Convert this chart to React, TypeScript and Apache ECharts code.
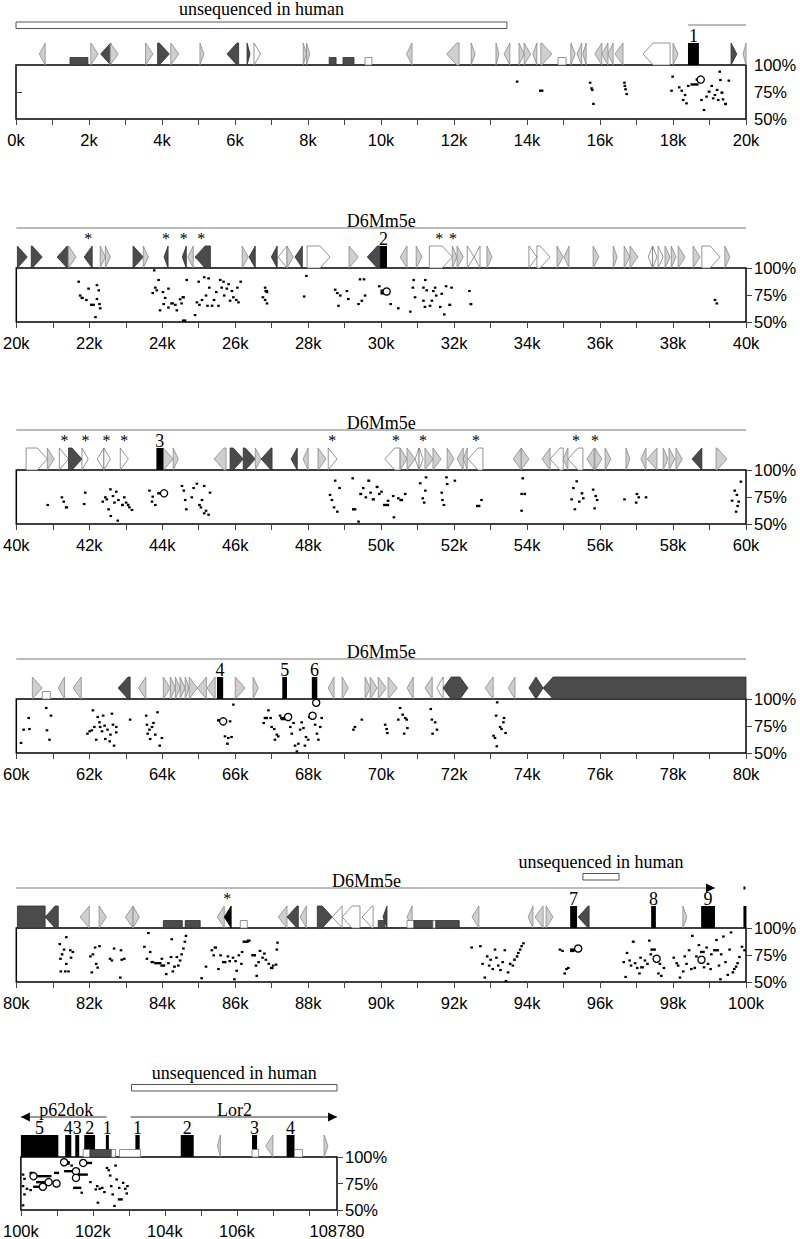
import React, { useEffect, useRef } from "react";
import * as echarts from "echarts";

// ---------- axis ranges (kb) ----------
const RANGES: [number, number][] = [
  [0, 20], [20, 40], [40, 60], [60, 80], [80, 100], [100, 108.78],
];
const Y_TICKS = [50, 75, 100];

// ---------- repeats: [startKb, endKb, fill(L light/D dark/W white/B black), dir(1 right,-1 left,0 both,2 box)] ----------
const rep1: [number, number, string, number][] = [
  [0.64,0.8,"L",-1],[2.05,2.25,"L",1],[2.32,2.6,"D",-1],[2.58,2.8,"L",1],[3.55,3.75,"L",1],[3.88,4.2,"D",1],
  [4.24,4.46,"L",1],[5.04,5.15,"L",1],[5.78,6.1,"D",-1],[6.33,6.4,"D",1],[6.52,6.7,"W",1],[7.87,7.96,"L",1],
  [7.96,8.05,"L",1],[10.7,10.85,"L",-1],[11.8,12.14,"L",-1],[12.47,12.58,"L",1],[13.15,13.23,"L",1],
  [13.37,13.53,"L",-1],[13.78,13.92,"L",1],[13.92,14.1,"L",1],[14.16,14.27,"L",-1],[14.38,14.68,"L",1],
  [15.2,15.32,"L",1],[15.37,15.5,"L",-1],[15.53,15.62,"L",-1],[15.86,16.05,"L",-1],[16.05,16.22,"L",-1],
  [16.22,16.36,"L",-1],[16.41,16.63,"L",-1],[17.18,17.92,"W",-1],[18.0,18.14,"L",1],[19.59,19.75,"D",1],
  [19.92,20.0,"L",-1],
];
const rep2: [number, number, string, number][] = [
  [20.03,20.3,"D",1],[20.41,20.71,"D",1],[21.12,21.4,"D",-1],[21.43,21.64,"L",1],[21.86,22.08,"D",-1],
  [22.3,22.44,"L",1],[22.44,22.58,"L",1],[23.2,23.48,"D",1],[23.48,23.62,"L",1],[24.05,24.16,"D",-1],
  [24.55,24.66,"D",-1],[24.7,24.85,"L",-1],[24.9,25.32,"D",-1],[26.19,26.36,"L",1],[26.38,26.55,"D",-1],
  [26.99,27.15,"D",-1],[27.18,27.42,"W",-1],[27.42,27.59,"L",1],[27.64,27.84,"D",-1],[27.97,28.6,"W",1],
  [29.12,29.37,"L",1],[29.62,29.97,"D",-1],[30.52,30.71,"L",-1],[30.96,31.12,"L",1],[31.32,31.95,"W",1],
  [31.95,32.08,"L",1],[32.08,32.25,"L",1],[32.36,32.55,"W",1],[32.55,32.71,"W",-1],[32.9,33.04,"L",1],
  [34.05,34.27,"W",1],[34.27,34.63,"W",1],[34.82,34.99,"L",1],[35.01,35.15,"L",-1],[35.81,35.97,"L",1],
  [36.36,36.47,"L",1],[36.66,36.82,"L",1],[36.82,37.04,"L",1],[37.32,37.44,"W",-1],[37.44,37.56,"W",1],
  [37.59,37.73,"W",1],[37.78,37.92,"L",1],[37.95,38.08,"L",1],[38.14,38.33,"L",1],[38.55,38.74,"L",1],
  [38.79,39.29,"W",1],[39.42,39.56,"L",1],
];
const rep3: [number, number, string, number][] = [
  [40.27,40.85,"W",1],[40.85,41.04,"L",1],[41.18,41.43,"W",1],[41.43,41.8,"D",1],[41.8,41.97,"W",1],
  [42.22,42.4,"W",-1],[42.4,42.58,"W",1],[42.85,43.07,"W",1],[44.03,44.3,"L",1],[44.3,44.44,"L",1],
  [45.42,45.75,"L",-1],[45.86,46.22,"D",1],[46.22,46.55,"D",1],[46.55,46.71,"L",1],[46.71,47.01,"D",-1],
  [47.53,47.7,"D",-1],[47.86,48.0,"L",-1],[48.27,48.49,"L",1],[48.55,48.79,"W",1],[50.1,50.52,"W",-1],
  [50.52,50.71,"L",1],[50.71,50.93,"L",1],[50.93,51.04,"W",-1],[51.04,51.15,"W",1],[51.2,51.42,"L",1],
  [51.42,51.64,"L",1],[51.81,52.0,"L",1],[52.08,52.25,"L",-1],[52.25,52.36,"L",-1],[52.38,52.79,"W",-1],
  [53.62,53.84,"L",-1],[53.84,54.05,"L",1],[54.41,54.63,"L",-1],[54.63,54.99,"W",-1],[54.99,55.12,"L",-1],
  [55.12,55.53,"W",-1],[55.64,55.84,"L",-1],[55.86,56.05,"L",1],[56.14,56.3,"L",1],[56.71,56.82,"L",1],
  [57.12,57.26,"L",-1],[57.29,57.56,"L",-1],[57.73,57.86,"L",1],[57.89,58.05,"L",1],[58.08,58.25,"L",1],
  [58.52,58.79,"D",-1],[59.18,59.48,"L",1],
];
const rep4: [number, number, string, number][] = [
  [60.44,60.71,"L",1],[61.15,61.32,"L",-1],[61.56,61.78,"L",-1],[62.79,63.12,"D",-1],[63.35,63.55,"L",-1],
  [64.03,64.22,"L",1],[64.22,64.36,"L",1],[64.36,64.49,"L",1],[64.49,64.63,"L",1],[64.63,64.74,"L",1],
  [64.74,64.96,"L",1],[64.96,65.21,"L",-1],[65.23,65.45,"L",-1],[66.0,66.27,"L",1],[66.49,66.63,"L",1],
  [68.55,68.71,"L",-1],[68.93,69.1,"L",1],[69.56,69.7,"L",1],[69.7,69.89,"L",1],[69.92,70.14,"L",1],
  [70.19,70.44,"L",1],[70.71,70.88,"L",-1],[71.2,71.4,"L",-1],[71.53,71.7,"W",-1],[71.7,72.38,"D",0],
  [72.85,73.07,"L",-1],[73.48,73.67,"L",-1],[74.05,74.44,"D",0],[74.44,80,"D",-1],
];
const rep5: [number, number, string, number][] = [
  [80.03,80.79,"D",2],[80.79,81.15,"D",-1],[81.75,82.0,"L",-1],[82.27,82.47,"L",1],[82.99,83.2,"L",-1],
  [83.2,83.37,"L",1],[85.51,85.7,"L",-1],[85.7,85.89,"B",-1],[87.18,87.42,"L",-1],[87.42,87.73,"D",-1],
  [87.78,87.95,"L",-1],[88.25,88.66,"D",1],[88.66,88.93,"W",-1],[88.93,89.42,"W",-1],[89.48,89.78,"W",-1],
  [90.05,90.16,"D",-1],[90.71,90.85,"L",-1],[92.49,92.68,"L",-1],[94.03,94.16,"L",-1],[94.22,94.44,"L",-1],
  [94.52,94.71,"L",1],[95.4,95.7,"D",-1],[98.27,98.38,"L",1],
];
const rep6: [number, number, string, number][] = [
  [105.46,105.52,"L",-1],[106.8,107.0,"L",-1],[108.42,108.53,"L",1],
];

// ---------- low blocks: [startKb, endKb, fill] ----------
const low1: [number, number, string][] = [[1.48,1.97,"D"],[8.58,8.77,"D"],[8.96,9.26,"D"],[9.56,9.75,"W"],[14.85,15.07,"W"]];
const low2: [number, number, string][] = [];
const low3: [number, number, string][] = [];
const low4: [number, number, string][] = [[60.71,60.93,"W"]];
const low5: [number, number, string][] = [
  [84.03,84.55,"D"],[84.63,85.04,"D"],[86.14,86.33,"W"],[89.92,90.1,"D"],[90.71,90.9,"W"],
  [90.9,91.42,"D"],[91.42,91.5,"W"],[91.5,92.14,"D"],
];
const low6: [number, number, string][] = [
  [101.73,101.92,"W"],[101.92,102.52,"D"],[102.52,102.63,"W"],[102.74,103.32,"W"],[106.42,106.6,"W"],[107.6,107.82,"W"],
];

// ---------- exons: [startKb, endKb, number] ----------
const exon1: [number, number, string][] = [[18.41,18.71,"1"]];
const exon2: [number, number, string][] = [[29.97,30.16,"2"]];
const exon3: [number, number, string][] = [[43.84,44.03,"3"]];
const exon4: [number, number, string][] = [[65.5,65.67,"4"],[67.29,67.42,"5"],[68.1,68.25,"6"]];
const exon5: [number, number, string][] = [[95.18,95.37,"7"],[97.4,97.53,"8"],[98.77,99.15,"9"],[99.93,100,""]];
const exon6: [number, number, string][] = [
  [100.0,101.04,"5"],[101.23,101.4,"4"],[101.51,101.62,"3"],[101.76,102.06,"2"],[102.36,102.44,"1"],
  [103.18,103.3,"1"],[104.44,104.8,"2"],[106.42,106.56,"3"],[107.38,107.6,"4"],
];

// ---------- asterisks (kb) ----------
const star1: number[] = [];
const star2: number[] = [21.97, 24.1, 24.59, 25.07, 31.59, 31.97];
const star3: number[] = [41.32, 41.9, 42.47, 42.96, 48.66, 50.41, 51.15, 52.6, 55.34, 55.86];
const star4: number[] = [];
const star5: number[] = [85.78];
const star6: number[] = [];

// ---------- gene lines: [startKb, endKb, arrow(1 right,-1 left,0 none)] ----------
const gene1: [number, number, number][] = [[18.41, 20, 0]];
const gene2: [number, number, number][] = [[20, 40, 0]];
const gene3: [number, number, number][] = [[40, 60, 0]];
const gene4: [number, number, number][] = [[60, 80, 0]];
const gene5: [number, number, number][] = [[80, 99.15, 1], [99.93, 100, 0]];
const gene6: [number, number, number][] = [[100.0, 102.38, -1], [103.05, 108.78, 1]];

// ---------- gene names: [centerKb, name] ----------
const name1: [number, string][] = [];
const name2: [number, string][] = [[30, "D6Mm5e"]];
const name3: [number, string][] = [[50, "D6Mm5e"]];
const name4: [number, string][] = [[70, "D6Mm5e"]];
const name5: [number, string][] = [[89.6, "D6Mm5e"]];
const name6: [number, string][] = [[101.26, "p62dok"], [105.93, "Lor2"]];

// ---------- unsequenced regions: [startKb, endKb] ----------
const unseq1: [number, number][] = [[0, 13.45]];
const unseq2: [number, number][] = [];
const unseq3: [number, number][] = [];
const unseq4: [number, number][] = [];
const unseq5: [number, number][] = [[95.53, 96.52]];
const unseq6: [number, number][] = [[103.07, 108.78]];
const UNSEQ_LABEL = "unsequenced in human";

// ---------- PIP: points [kb, %], dashes [startKb, endKb, %], circles [kb, %] ----------
const pts1: [number, number][] = [
  [13.73,84.6],[15.73,83.6],[15.77,78.4],[15.79,76.9],[15.82,64],[16.67,83.6],[16.68,80.6],[16.7,77.5],[16.73,73.1],
  [17.99,89.2],[17.96,76.2],[18.17,79.3],[18.24,76.2],[18.28,67.6],[18.33,72.2],[18.37,64.5],[18.42,80.6],[18.78,67.6],
  [18.85,58.3],[18.92,70.7],[19.06,80.6],[19.1,69.1],[19.15,72.2],[19.21,76.9],[19.24,67.6],[19.28,93.8],[19.3,86.1],
  [19.37,68.2],[19.53,85.5],
];
const dash1: [number, number, number][] = [
  [14.33,14.45,76.2],[18.48,18.7,82],[18.62,18.72,86.5],[18.95,19.03,75.3],[19.3,19.38,74.4],[19.4,19.48,63.9],
];
const circ1: [number, number][] = [[18.76,86.5]];

const pts2: [number, number][] = [
  [21.71,87.3],[21.75,74.5],[21.92,70.4],[21.98,80.9],[22.12,65.9],[22.17,54.5],[22.21,84.1],[22.26,79.3],[22.21,71.3],
  [22.3,62.7],[22.28,66.6],[23.78,97.8],[23.81,81.8],[23.74,76.8],[23.85,79.3],[23.9,88.9],[23.94,60.8],[24.02,77.7],
  [24.04,66.6],[24.08,72.3],[24.17,80.9],[24.17,63.4],[24.36,65.9],[24.4,60.8],[24.49,71],[24.53,67.2],[24.67,88.9],
  [24.9,56.4],[24.95,68.2],[25.02,65.9],[25,87.3],[25.09,70.4],[25.15,91.4],[25.2,74.5],[25.27,90.4],[25.24,65],
  [25.29,81.8],[25.42,70.4],[25.48,77.7],[25.54,65],[25.59,88.9],[25.63,81.8],[25.68,87.3],[25.7,74.5],[25.77,80.9],
  [25.82,85],[25.86,69.7],[25.91,78.7],[25.95,72.9],[26.03,70.4],[26.06,81.8],[26.15,87.3],[26.09,68.2],[26.82,81.8],
  [26.87,77.7],[26.76,72.9],[26.82,70.4],[26.87,67.2],[27.95,92.7],[27.89,73.6],[28.74,79.9],[28.8,76.8],[28.83,65],
  [28.88,74.5],[29.06,78.7],[29.1,71.3],[29.38,66.6],[29.42,89.5],[29.47,69.7],[29.53,89.5],[29.56,74.5],[29.95,83.1],
  [30.26,66.6],[30.47,62.7],[30.8,59.6],[30.87,81.8],[30.93,72.9],[30.89,88.9],[31.16,81.8],[31.21,88.9],[31.16,69.7],
  [31.2,64],[31.25,79.3],[31.34,65],[31.39,69.7],[31.43,78.7],[31.48,81.8],[31.51,74.5],[31.62,64],[31.66,76.1],
  [31.73,57],[31.78,83.1],[31.93,81.8],[32.42,78.7],[39.15,70.4],[39.2,67.2],
];
const dash2: [number, number, number][] = [
  [21.76,21.85,72.3],[22.02,22.1,65.9],[24.22,24.32,67.2],[24.53,24.62,72.9],[24.54,24.66,51.3],[25.33,25.4,65],
  [26.8,26.9,78.7],[29.98,30.1,76.6],[29.98,30.08,79],[31.84,31.92,65.9],[32.42,32.5,66.6],
];
const circ2: [number, number][] = [[30.15,78.2]];

const pts3: [number, number][] = [
  [40.86,67.6],[41.25,74.7],[41.3,70.7],[41.89,79],[41.86,68.5],[42.37,70.7],[42.44,74.7],[42.48,72.8],[42.53,63.6],
  [42.58,82.1],[42.59,57.4],[42.65,75.9],[42.69,69.8],[42.74,79.9],[42.78,53.1],[42.8,72.2],[42.96,74.7],[43.01,69.8],
  [43.1,65.4],[43.17,63],[43.65,80.9],[43.74,75.3],[43.72,70.7],[43.81,67.6],[44.54,85.2],[44.59,80.9],[44.63,72.2],
  [44.66,63.6],[44.81,74.7],[44.86,83.3],[44.95,87.3],[45.02,67.6],[45.06,65.4],[45.09,72.2],[45.15,85.2],[45.15,59.9],
  [45.2,62.3],[45.27,58.6],[45.31,79],[48.6,76.9],[48.65,72.2],[48.71,65.4],[48.74,90.1],[48.8,61.4],[48.86,83.3],
  [49.22,92.3],[49.38,52.2],[49.51,83.3],[49.58,74.7],[49.71,79],[49.95,77.8],[50.01,79.9],[50.19,71.5],[50.33,75.9],
  [50.35,56.2],[50.47,73.8],[50.66,77.8],[51.07,87.7],[51.14,73.8],[51.18,69.8],[51.21,80.9],[51.23,93.2],[51.66,79],
  [51.68,72.2],[51.72,67.6],[51.79,93.2],[51.81,87],[52.02,90.1],[52.75,72.2],[53.88,92.3],[53.85,77.8],[53.85,62.3],
  [55.22,72.8],[55.27,83.3],[55.36,89.5],[55.31,63.6],[55.43,70.7],[55.54,73.8],[55.81,81.8],[55.88,75.9],[55.92,72.2],
  [55.85,64.5],[56.67,72.8],[56.99,69.8],[57.01,77.8],[57.06,74.7],[57.26,74.7],[59.62,71.6],[59.69,80.9],[59.75,76.9],
  [59.73,61.4],[59.8,70.7],[59.86,89.2],[59.77,66.7],
];
const dash3: [number, number, number][] = [
  [41.33,41.42,65.4],[42.87,42.95,67.6],[43.03,43.1,67.6],[43.86,43.99,78.4],[49.2,49.32,63.6],[49.4,49.48,77.8],
  [49.62,49.7,90.1],[49.74,49.83,72.8],[49.85,49.93,84.3],[50.05,50.22,67.6],[50.5,50.6,72.2],[52.6,52.72,66.7],
  [53.9,53.97,77.8],[55.47,55.54,78.4],
];
const circ3: [number, number][] = [[44.05,78.4]];

const pts4: [number, number][] = [
  [60.13,59.3],[60.2,71.6],[60.34,82.4],[60.36,72.2],[60.82,91.7],[60.84,71],[60.91,62.3],[60.95,84.6],[61.95,67.9],
  [62.01,70.1],[62.07,71],[62.1,89.5],[62.14,74.1],[62.19,62.3],[62.23,83.3],[62.28,78.4],[62.3,74.1],[62.35,70.1],
  [62.38,84.6],[62.42,75.3],[62.44,63],[62.5,71.6],[62.56,60.8],[62.58,67],[62.62,86.4],[62.65,76.2],[62.68,56.8],
  [62.74,69.1],[62.74,74.1],[63.12,80.9],[63.56,84.6],[63.58,76.2],[63.6,67.9],[63.65,71.6],[63.67,63],[63.72,74.1],
  [63.76,77.8],[63.81,67],[63.87,87.7],[63.93,56.8],[63.99,63.9],[65.86,79.3],[65.95,94.8],[65.72,65.4],[65.81,63.9],
  [65.9,64.8],[66.78,77.8],[66.91,89.5],[66.97,82.4],[67,74.1],[67.07,72.2],[67.09,62.3],[67.14,67],[67.18,65.4],
  [67.23,84.6],[67.51,74.1],[67.55,67.9],[67.6,77.8],[67.64,56.8],[67.69,51.5],[67.73,58.6],[67.78,71.6],[67.82,78.4],
  [67.87,73.1],[67.91,56.8],[67.94,64.8],[68.0,62.3],[68.03,83.3],[68.19,76.2],[68.24,67.9],[68.28,62.3],[68.33,74.1],
  [68.37,82.4],[69.24,71.6],[69.28,74.1],[69.47,80.9],[70.11,76.2],[70.15,72.2],[70.17,68.5],[70.47,80.9],[70.52,91.7],
  [70.59,85.5],[70.66,82.4],[70.7,80.9],[70.72,73.1],[70.63,67.9],[71.36,90.7],[71.39,80.9],[71.48,78.4],[71.53,71.6],
  [71.41,67.9],[73.18,96.9],[73.15,84.6],[73.37,82.4],[73.35,78.4],[73.26,74.1],[73.3,72.2],[73.41,68.5],[73.08,66.0],
  [73.12,63.9],[73.17,56.2],
];
const dash4: [number, number, number][] = [
  [65.5,65.64,80.2],[65.75,65.82,58.6],[66.78,66.9,82.4],[67.23,67.4,82.4],[67.25,67.38,81.4],
];
const circ4: [number, number][] = [[65.67,79.3],[67.45,83.3],[68.12,84.5],[68.22,96.5]];

const pts5: [number, number][] = [
  [81.19,85.1],[81.21,71.5],[81.31,80],[81.37,91.5],[81.37,66.8],[81.43,59.8],[81.48,79.4],[81.5,72.5],[81.55,77.8],
  [81.22,59.8],[81.34,59.8],[82.03,73.7],[82.1,75.6],[82.16,81.9],[82.19,66.8],[82.23,63.3],[82.07,58.9],[82.28,83.2],
  [82.57,71.5],[82.62,69.9],[82.68,81],[82.87,79.4],[82.89,70.6],[82.96,71.5],[82.85,54.1],[83.51,82.6],[83.62,95.3],
  [83.58,71.5],[83.67,77.8],[83.99,71.5],[84.11,57.3],[84.17,67.4],[84.24,73.1],[84.26,89.6],[84.29,59.8],[84.4,73.1],
  [84.44,65.2],[84.49,69.9],[84.53,75.6],[84.58,81],[84.62,87.3],[84.65,92.7],[85.08,53.5],[85.2,64.2],[85.36,79.4],
  [85.41,74.7],[85.54,62],[85.6,74.7],[85.8,73.7],[85.85,69.3],[85.98,52.5],[85.94,72.5],[86.01,69.3],[86.04,60.4],
  [86.1,74.7],[86.17,66.8],[86.19,77.8],[86.57,65.2],[86.59,55.7],[86.64,68.4],[86.68,78.8],[86.75,72.5],[86.8,76.3],
  [86.84,70.6],[86.92,66.8],[87.04,65.2],[87.12,66.1],[87.16,86.4],[87.14,80],[92.48,81.9],[92.72,83.2],[92.78,66.8],
  [92.84,54.1],[92.96,65.2],[93.0,70.6],[93.06,62],[93.12,80],[93.16,72.5],[93.21,65.2],[93.27,61.1],[93.33,68.4],
  [93.39,79.4],[93.42,50.9],[93.48,58.9],[93.61,65.2],[93.76,76.9],[93.81,80],[93.85,83.2],[93.9,85.8],[94.9,80],
  [94.97,78.8],[95.08,62],[95.03,57.9],[95.13,63],[96.65,68.4],[96.7,54.7],[96.74,76.9],[96.81,69.9],[96.85,65.2],
  [96.96,67.4],[97.02,63],[97.08,57.9],[97.11,72.5],[97.23,69.9],[97.3,66.8],[97.35,88.3],[97.39,75.6],[97.6,57.9],
  [97.64,66.8],[97.68,55.7],[97.75,63],[98.02,72.5],[98.1,67.4],[98.14,65.2],[98.19,54.1],[98.28,59.8],[98.32,73.7],
  [98.37,66.8],[98.44,79.4],[98.5,62],[98.53,92.7],[98.64,73.7],[98.71,84.2],[98.85,63.6],[98.92,81.9],[98.96,66.8],
  [99.03,62],[99.05,75.6],[99.19,88.9],[99.26,65.2],[99.3,52.5],[99.32,75.6],[99.38,92.1],[99.44,68.4],[99.5,56.6],
  [99.55,80],[99.59,95.9],[99.64,58.9],[99.68,62],[99.73,64.2],[99.77,67.4],[99.82,73.1],[99.89,82.6],[99.96,79.4],
];
const dash5: [number, number, number][] = [
  [81.22,81.29,75.6],[83.68,83.78,68.4],[83.78,83.98,67.4],[83.95,84.08,65.2],[84.3,84.37,64.2],[85.41,85.5,81.9],
  [85.64,85.76,68.4],[86.2,86.37,87.3],[86.32,86.42,88.3],[86.44,86.57,74.7],[86.95,87.05,63],[92.87,92.94,73.7],
  [93.5,93.57,66.8],[93.62,93.68,70.6],[93.69,93.75,73.7],[95.18,95.33,80],[95.18,95.3,78.8],[96.87,96.95,87.3],
  [97.1,97.2,63.6],[97.38,97.53,80],[98.56,98.62,63],[98.74,98.87,77.8],[99.1,99.26,79.4],
];
const circ5: [number, number][] = [[95.4,81],[97.55,71.5],[98.78,70.6]];

const pts6: [number, number][] = [
  [100.06,83.4],[100.1,79.4],[100.06,72.5],[100.1,64.7],[100.17,70],[100.27,68.8],[100.06,54.4],[101.32,93.7],
  [101.41,91.9],[101.59,88.1],[101.69,66.3],[101.93,76.3],[102.08,69.4],[102.12,72.5],[102.14,56.9],[102.19,70],
  [102.26,70.9],[102.32,66.9],[102.39,89.7],[102.44,87.5],[102.48,82.5],[102.51,72.5],[102.55,64.7],[102.6,53.8],
  [102.63,91.9],[102.66,78.8],[102.73,70.9],[102.84,75.6],[102.9,70],[102.96,72.5],[102.94,65.6],
];
const dash6: [number, number, number][] = [
  [101.24,101.36,95],[101.76,101.98,94.4],[101.2,101.48,86.6],[100.42,100.85,81.9],[100.42,100.72,76.3],
  [100.34,100.58,71.9],[100.92,101.06,85],[101.59,101.86,83.4],[101.45,101.68,70.9],[102.69,102.83,60],[100.24,100.38,85],
];
const circ6: [number, number][] = [[101.2,95],[101.73,94.4],[101.53,86.6],[100.35,81.9],[101.53,80.3],[100.77,76.3],[100.99,75],[100.61,71.9]];

const REPEATS = [rep1, rep2, rep3, rep4, rep5, rep6];
const LOWS = [low1, low2, low3, low4, low5, low6];
const EXONS = [exon1, exon2, exon3, exon4, exon5, exon6];
const STARS = [star1, star2, star3, star4, star5, star6];
const GENES = [gene1, gene2, gene3, gene4, gene5, gene6];
const NAMES = [name1, name2, name3, name4, name5, name6];
const UNSEQ = [unseq1, unseq2, unseq3, unseq4, unseq5, unseq6];
const POINTS = [pts1, pts2, pts3, pts4, pts5, pts6];
const DASHES = [dash1, dash2, dash3, dash4, dash5, dash6];
const CIRCLES = [circ1, circ2, circ3, circ4, circ5, circ6];

// ---------- layout (pixels) ----------
const LAYOUT = [
  { top: 65, left: 16, width: 730, unseqText: -56, unseqBar: -40 },
  { top: 268, left: 16, width: 730, unseqText: -56, unseqBar: -40 },
  { top: 470, left: 16, width: 730, unseqText: -56, unseqBar: -40 },
  { top: 699, left: 16, width: 730, unseqText: -56, unseqBar: -40 },
  { top: 928, left: 16, width: 730, unseqText: -66, unseqBar: -51.5 },
  { top: 1157, left: 17, width: 320, unseqText: -84, unseqBar: -69.5 },
];
const BOX_H = 54;
const SERIF = '"Liberation Serif", "Times New Roman", serif';
const SANS = '"Liberation Sans", Arial, Helvetica, sans-serif';
const FILL: Record<string, string> = { L: "#cfcfcf", D: "#4b4b4b", W: "#ffffff", B: "#000000" };
const STROKE: Record<string, string> = { L: "#8a8a8a", D: "#2e2e2e", W: "#7a7a7a", B: "#000000" };

function buildOption() {
  const grid: any[] = [];
  const xAxis: any[] = [];
  const yAxis: any[] = [];
  const series: any[] = [];

  RANGES.forEach(([mn, mx], i) => {
    const L = LAYOUT[i];
    grid.push({
      left: L.left, top: L.top, width: L.width, height: BOX_H,
      show: true, borderColor: "#000", borderWidth: 1.5, backgroundColor: "#fff",
    });
    xAxis.push({
      type: "value", gridIndex: i, min: mn, max: mx, interval: 1,
      axisLine: { show: false },
      axisTick: { show: true, length: 6, lineStyle: { color: "#444", width: 1 } },
      splitLine: { show: false },
      axisLabel: {
        margin: 12, fontSize: 16.5, color: "#000", fontFamily: SANS,
        formatter: (v: number) => {
          if (Math.abs(v - 108.78) < 1e-6) return "108780";
          if (v >= 108 && i === 5) return "";
          const r = Math.round(v);
          if (Math.abs(v - r) > 1e-6) return "";
          return r % 2 === 0 ? r + "k" : "";
        },
      },
    });
    yAxis.push({
      type: "value", gridIndex: i, position: "right", min: Y_TICKS[0], max: Y_TICKS[2], interval: 25,
      axisLine: { show: false },
      axisTick: { show: true, length: 6, lineStyle: { color: "#444", width: 1 } },
      splitLine: { show: false },
      axisLabel: { margin: 8, fontSize: 16.5, color: "#000", fontFamily: SANS, formatter: "{value}%" },
    });

    const base = { type: "custom", xAxisIndex: i, yAxisIndex: i, silent: true, clip: false, animation: false };
    const topOf = (api: any) => api.coord([mn, 100])[1];
    const xOf = (api: any, v: number) => api.coord([v, 100])[0];

    // unsequenced bars
    const us = UNSEQ[i];
    if (us.length) {
      series.push({
        ...base, z: 3,
        data: us.map((d) => [d[0], 100]),
        renderItem: (p: any, api: any) => {
          const d = us[p.dataIndex];
          const T = topOf(api);
          const x1 = xOf(api, d[0]), x2 = xOf(api, d[1]);
          return {
            type: "group",
            children: [
              { type: "rect", shape: { x: x1, y: T + L.unseqBar - 3, width: x2 - x1, height: 6.5 },
                style: { fill: "#fff", stroke: "#555", lineWidth: 1 } },
              { type: "text", x: (x1 + x2) / 2, y: T + L.unseqText,
                style: { text: UNSEQ_LABEL, font: `18px ${SERIF}`, fill: "#000", align: "center", verticalAlign: "middle" } },
            ],
          };
        },
      });
    }

    // gene lines
    const gl = GENES[i];
    series.push({
      ...base, z: 3,
      data: gl.map((d) => [d[0], 100]),
      renderItem: (p: any, api: any) => {
        const d = gl[p.dataIndex];
        const T = topOf(api);
        const y = T - 40;
        const x1 = xOf(api, d[0]), x2 = xOf(api, d[1]);
        const ch: any[] = [
          { type: "line", shape: { x1, y1: y, x2, y2: y }, style: { stroke: i === 5 ? "#333" : "#777", lineWidth: 1 } },
        ];
        if (d[2] === 1) ch.push({ type: "polygon", shape: { points: [[x2 - 9, y - 4.5], [x2, y], [x2 - 9, y + 4.5]] }, style: { fill: "#000" } });
        if (d[2] === -1) ch.push({ type: "polygon", shape: { points: [[x1 + 9, y - 4.5], [x1, y], [x1 + 9, y + 4.5]] }, style: { fill: "#000" } });
        if (d[2] === 0 && x2 - x1 < 3) ch[0] = { type: "rect", shape: { x: x1, y: y - 1.5, width: 2, height: 3 }, style: { fill: "#000" } };
        return { type: "group", children: ch };
      },
    });

    // gene names
    const nm = NAMES[i];
    if (nm.length) {
      series.push({
        ...base, z: 4,
        data: nm.map((d) => [d[0], 100]),
        renderItem: (p: any, api: any) => {
          const d = nm[p.dataIndex];
          const T = topOf(api);
          return { type: "text", x: xOf(api, d[0]), y: T - 47,
            style: { text: d[1], font: `18px ${SERIF}`, fill: "#000", align: "center", verticalAlign: "middle" } };
        },
      });
    }

    // repeats
    const rp = REPEATS[i];
    series.push({
      ...base, z: 3,
      data: rp.map((d) => [d[0], 100]),
      renderItem: (p: any, api: any) => {
        const d = rp[p.dataIndex];
        const T = topOf(api);
        let x1 = xOf(api, d[0]), x2 = xOf(api, d[1]);
        if (x2 - x1 < 3) x2 = x1 + 3;
        const yt = T - 22, yb = T, ym = T - 11;
        const w = x2 - x1;
        const tip = Math.min(w, 10);
        let pts: number[][];
        if (d[3] === 1) pts = [[x1, yt], [x2 - tip, yt], [x2, ym], [x2 - tip, yb], [x1, yb]];
        else if (d[3] === -1) pts = [[x2, yt], [x1 + tip, yt], [x1, ym], [x1 + tip, yb], [x2, yb]];
        else if (d[3] === 0) { const t = Math.min(w / 2, 8); pts = [[x1, ym], [x1 + t, yt], [x2 - t, yt], [x2, ym], [x2 - t, yb], [x1 + t, yb]]; }
        else pts = [[x1, yt], [x2, yt], [x2, yb], [x1, yb]];
        return { type: "polygon", shape: { points: pts }, style: { fill: FILL[d[2]], stroke: STROKE[d[2]], lineWidth: 0.8 } };
      },
    });

    // exons + numbers
    const ex = EXONS[i];
    series.push({
      ...base, z: 4,
      data: ex.map((d) => [d[0], 100]),
      renderItem: (p: any, api: any) => {
        const d = ex[p.dataIndex];
        const T = topOf(api);
        const x1 = xOf(api, d[0]);
        let x2 = xOf(api, d[1]);
        if (x2 - x1 < 3) x2 = x1 + 3;
        const ch: any[] = [{ type: "rect", shape: { x: x1, y: T - 22, width: x2 - x1, height: 22 }, style: { fill: "#000" } }];
        if (d[2]) ch.push({ type: "text", x: (x1 + x2) / 2, y: T - 29,
          style: { text: d[2], font: `18px ${SERIF}`, fill: "#000", align: "center", verticalAlign: "middle" } });
        return { type: "group", children: ch };
      },
    });

    // low blocks
    const lw = LOWS[i];
    if (lw.length) {
      series.push({
        ...base, z: 5,
        data: lw.map((d) => [d[0], 100]),
        renderItem: (p: any, api: any) => {
          const d = lw[p.dataIndex];
          const T = topOf(api);
          const x1 = xOf(api, d[0]), x2 = xOf(api, d[1]);
          return { type: "rect", shape: { x: x1, y: T - 7.5, width: Math.max(2, x2 - x1), height: 7.5 },
            style: { fill: FILL[d[2]], stroke: STROKE[d[2]], lineWidth: 0.8 } };
        },
      });
    }

    // asterisks
    const st = STARS[i];
    if (st.length) {
      series.push({
        ...base, z: 4,
        data: st.map((k) => [k, 100]),
        renderItem: (p: any, api: any) => {
          const T = topOf(api);
          return { type: "text", x: xOf(api, st[p.dataIndex]), y: T - 29.5,
            style: { text: "*", font: `16px ${SERIF}`, fill: "#000", align: "center", verticalAlign: "middle" } };
        },
      });
    }

    // PIP dots
    const pt = POINTS[i];
    series.push({
      ...base, z: 6,
      data: pt.map((d) => [d[0], d[1]]),
      renderItem: (p: any, api: any) => {
        const d = pt[p.dataIndex];
        const c = api.coord([d[0], d[1]]);
        return { type: "rect", shape: { x: c[0] - 1.3, y: c[1] - 1.1, width: 2.6, height: 2.2 }, style: { fill: "#000" } };
      },
    });
    // PIP dashes
    const ds = DASHES[i];
    series.push({
      ...base, z: 6,
      data: ds.map((d) => [d[0], d[2]]),
      renderItem: (p: any, api: any) => {
        const d = ds[p.dataIndex];
        const a = api.coord([d[0], d[2]]);
        const b = api.coord([d[1], d[2]]);
        return { type: "rect", shape: { x: a[0], y: a[1] - 1.2, width: Math.max(2.6, b[0] - a[0]), height: 2.4 }, style: { fill: "#000" } };
      },
    });
    // PIP circles
    const cc = CIRCLES[i];
    series.push({
      ...base, z: 7,
      data: cc.map((d) => [d[0], d[1]]),
      renderItem: (p: any, api: any) => {
        const d = cc[p.dataIndex];
        const c = api.coord([d[0], d[1]]);
        return { type: "circle", shape: { cx: c[0], cy: c[1], r: 3.6 }, style: { fill: "#fff", stroke: "#000", lineWidth: 1.3 } };
      },
    });
  });

  return { animation: false, backgroundColor: "#fff", grid, xAxis, yAxis, series };
}

export default function App() {
  const ref = useRef<HTMLDivElement>(null);
  useEffect(() => {
    document.body.style.margin = "0";
    if (!ref.current) return;
    const chart = echarts.init(ref.current, undefined, { renderer: "svg" });
    chart.setOption(buildOption() as any);
    return () => chart.dispose();
  }, []);
  return <div ref={ref} style={{ width: 800, height: 1239, background: "#fff" }} />;
}
